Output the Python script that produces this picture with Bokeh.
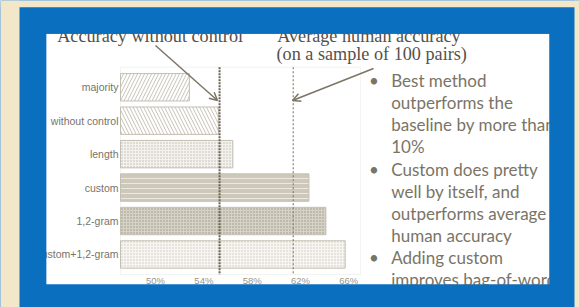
from bokeh.plotting import figure
from bokeh.models import (ColumnDataSource, Range1d, FixedTicker, Label, BoxAnnotation,
                          Arrow, OpenHead)
from bokeh.embed import file_html
from bokeh.resources import INLINE

# ---- data ----
categories = ["majority", "without control", "length", "custom", "1,2-gram", "custom+1,2-gram"]
accuracy = [52.8, 55.2, 56.4, 62.7, 64.1, 65.7]
acc_without_control = 55.3
avg_human_accuracy = 61.4
x_ticks = [50, 54, 58, 62, 66]
tick_labels = ["50%", "54%", "58%", "62%", "66%"]
bullet_lines = ["Best method", "outperforms the", "baseline by more than", "10%",
                "Custom does pretty", "well by itself, and", "outperforms average",
                "human accuracy", "Adding custom", "improves bag-of-words"]
bullet_starts = [0, 4, 8]

# ---- chart geometry (axis limits of the inner chart) ----
X_MIN, X_MAX = 47.1, 66.97
Y_TOP, Y_BOTTOM = -0.6, len(categories) - 0.4

# ---- styles ----
BEIGE = "#f2e7c9"
BLUE = "#0b6fbf"
fills = ["#ffffff", "#ffffff", "#f3f2ee", "#cdc8b9", "#d6d2c5", "#f6f5f1"]
hatches = ["/", "\\", ".", "-", ".", "."]
hatch_colors = ["#c6c2b6", "#c6c2b6", "#bdb9ad", "#ebe8e0", "#9d9786", "#cbc7bb"]
hatch_scales = [7, 7, 3, 5, 3, 3]

pos = list(range(len(categories)))
src = ColumnDataSource(dict(pos=pos, acc=accuracy, fill=fills, hatch=hatches,
                            hcolor=hatch_colors, hscale=hatch_scales))

W, H = 579, 307
PX_PER_X = 12.08     # pixels per percentage point
PX_PER_Y = 33.44     # pixels per category slot
FRAME_L, FRAME_T = 120.0, 66.7   # inner chart position on the canvas
x0 = X_MIN - FRAME_L / PX_PER_X
y0 = Y_TOP - FRAME_T / PX_PER_Y

p = figure(width=W, height=H,
           x_range=Range1d(x0, x0 + W / PX_PER_X),
           y_range=Range1d(y0 + H / PX_PER_Y, y0),
           output_backend="svg", toolbar_location=None,
           min_border=0, min_border_left=0, min_border_right=0,
           min_border_top=0, min_border_bottom=0,
           border_fill_color=BLUE, background_fill_color=BLUE,
           outline_line_color=None)

def cbox(l, r, t, b, c, level):
    p.add_layout(BoxAnnotation(left=l, right=r, top=t, bottom=b,
                               left_units="canvas", right_units="canvas",
                               top_units="canvas", bottom_units="canvas",
                               fill_color=c, fill_alpha=1, line_color=None, level=level))

# white slide area
cbox(45.7, 549, 33.3, 284, "white", "underlay")

# chart box
p.add_layout(BoxAnnotation(left=X_MIN, right=X_MAX, top=Y_TOP, bottom=Y_BOTTOM,
                           fill_color=None, fill_alpha=0, line_color="#d6d3cb",
                           line_width=1, level="underlay"))

p.hbar(y="pos", right="acc", left=X_MIN, height=0.82, source=src,
       fill_color="fill", hatch_pattern="hatch", hatch_color="hcolor",
       hatch_scale="hscale", hatch_weight=1, line_color="#c3bfb3", line_width=1)

p.segment(x0=[acc_without_control], x1=[acc_without_control], y0=[Y_TOP], y1=[Y_BOTTOM],
          line_color="#6b6352", line_width=2, line_dash="2 1")
p.segment(x0=[avg_human_accuracy], x1=[avg_human_accuracy], y0=[Y_TOP], y1=[Y_BOTTOM],
          line_color="#8a8272", line_width=1.2, line_dash="2 2")

p.grid.visible = False
p.xaxis.fixed_location = Y_BOTTOM
p.xaxis.ticker = FixedTicker(ticks=x_ticks)
p.xaxis.major_label_overrides = dict(zip(x_ticks, tick_labels))
p.xaxis.axis_line_color = None
p.xaxis.major_tick_out = 0
p.xaxis.major_tick_in = 0
p.xaxis.minor_tick_line_color = None
p.xaxis.major_label_text_font = "Liberation Sans"
p.xaxis.major_label_text_font_size = "9.5px"
p.xaxis.major_label_text_color = "#9b9588"
p.xaxis.major_label_standoff = 0

p.yaxis.fixed_location = X_MIN
p.yaxis.ticker = FixedTicker(ticks=pos)
p.yaxis.major_label_overrides = dict(zip(pos, categories))
p.yaxis.axis_line_color = None
p.yaxis.major_tick_out = 0
p.yaxis.major_tick_in = 0
p.yaxis.minor_tick_line_color = None
p.yaxis.major_label_text_font = "Liberation Sans"
p.yaxis.major_label_text_font_size = "10.5px"
p.yaxis.major_label_text_color = "#77736a"
p.yaxis.major_label_standoff = 2

# annotations (serif, top)
serif = dict(x_units="canvas", y_units="canvas", text_font="Liberation Serif",
             text_font_size="18.2px", text_color="#55514a", text_baseline="alphabetic")
p.add_layout(Label(x=56.7, y=35.0, text="Accuracy without control", **serif))
p.add_layout(Label(x=276.7, y=35.0, text="Average human accuracy", **serif))
p.add_layout(Label(x=276.0, y=53.6, text="(on a sample of 100 pairs)", **serif))

head = dict(size=8, line_color="#7d7566", line_width=1.5)
p.add_layout(Arrow(x_start=155, y_start=45, x_end=217, y_end=100,
                   start_units="canvas", end_units="canvas",
                   line_color="#7d7566", line_width=1.5, end=OpenHead(**head)))
p.add_layout(Arrow(x_start=373, y_start=68, x_end=292, y_end=100,
                   start_units="canvas", end_units="canvas",
                   line_color="#7d7566", line_width=1.5, end=OpenHead(**head)))

# bullet text
sans = dict(x_units="canvas", y_units="canvas", text_font="Lato",
            text_font_size="17px", text_color="#7a7466", text_baseline="middle")
for i, line in enumerate(bullet_lines):
    y = 80 + i * 22.15
    p.add_layout(Label(x=390.7, y=y, text=line, **sans))
    if i in bullet_starts:
        p.add_layout(Label(x=368.5, y=y, text="\u2022", **sans))

# blue frame over everything outside the white area (clips texts), beige around it
cbox(19, 574, 6.7, 33.3, BLUE, "overlay")
cbox(19, 574, 284, H, BLUE, "overlay")
cbox(19, 45.7, 6.7, H, BLUE, "overlay")
cbox(549, 574, 6.7, H, BLUE, "overlay")
cbox(0, 19, 0, H, BEIGE, "overlay")
cbox(0, W, 0, 6.7, BEIGE, "overlay")
cbox(574, W, 0, H, BEIGE, "overlay")

open("out.html", "w").write(file_html(p, INLINE))
